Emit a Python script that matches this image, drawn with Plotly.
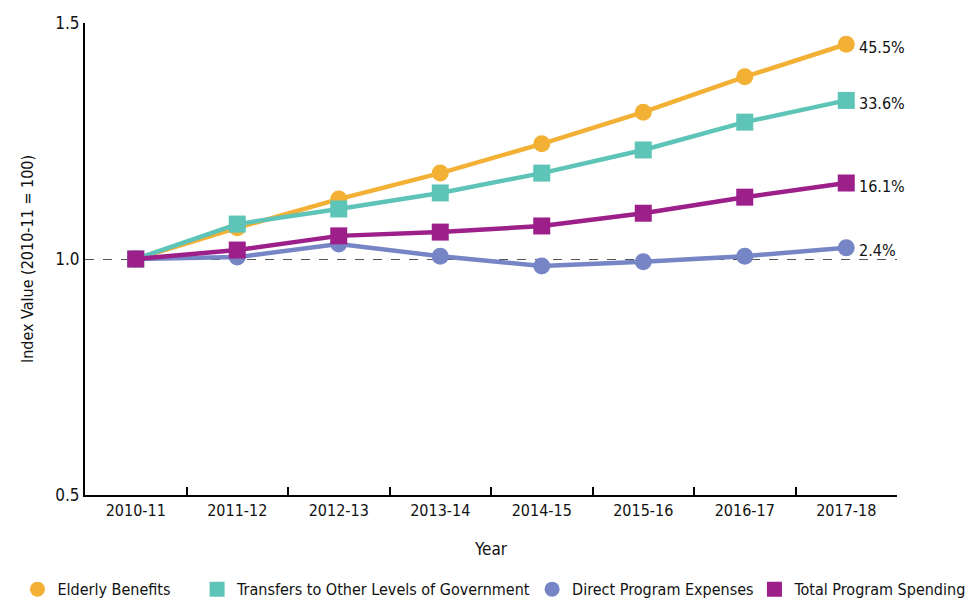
import plotly.graph_objects as go

years = ["2010-11", "2011-12", "2012-13", "2013-14", "2014-15", "2015-16", "2016-17", "2017-18"]

elderly_benefits = [1.000, 1.066, 1.127, 1.182, 1.244, 1.311, 1.386, 1.455]
transfers = [1.000, 1.074, 1.106, 1.140, 1.182, 1.231, 1.290, 1.336]
direct_program = [1.000, 1.004, 1.032, 1.006, 0.985, 0.994, 1.006, 1.024]
total_program = [1.000, 1.019, 1.049, 1.057, 1.070, 1.097, 1.131, 1.161]

series = [
    ("Elderly Benefits", elderly_benefits, "#F2B035", "circle"),
    ("Transfers to Other Levels of Government", transfers, "#5EC4B8", "square"),
    ("Direct Program Expenses", direct_program, "#7585C6", "circle"),
    ("Total Program Spending", total_program, "#9C1F8A", "square"),
]

# left edge of each legend entry (fraction of the page width)
legend_x = [0.018, 0.203, 0.548, 0.777]

FONT = "DejaVu Sans Condensed, Liberation Sans Narrow, Roboto, sans-serif"

fig = go.Figure()

for name, vals, color, symbol in series:
    fig.add_trace(go.Scatter(
        x=years, y=vals, mode="lines+markers", name=name,
        line=dict(color=color, width=4.5),
        marker=dict(symbol=symbol, size=17, color=color),
        showlegend=False,
    ))

# legend entries show the marker only, one legend box per entry in a single row
legend_layout = {}
for i, (name, vals, color, symbol) in enumerate(series):
    key = "legend" if i == 0 else f"legend{i + 1}"
    fig.add_trace(go.Scatter(
        x=[None], y=[None], mode="markers", name=name,
        marker=dict(symbol=symbol, size=15, color=color),
        showlegend=True, legend=key,
    ))
    legend_layout[key] = dict(
        orientation="h", xref="container", yref="container",
        x=legend_x[i], xanchor="left", y=0.026, yanchor="middle",
        font=dict(family=FONT, size=16, color="#111"),
        itemwidth=30, bgcolor="rgba(0,0,0,0)",
    )

# growth labels at the final year
for name, vals, color, symbol in series:
    fig.add_annotation(
        x=years[-1], y=vals[-1], text=f"{(vals[-1] - 1) * 100:.1f}%",
        showarrow=False, xanchor="left", xshift=11, yshift=-3,
        font=dict(family=FONT, size=16, color="#111"),
    )

fig.update_layout(
    width=971, height=605,
    margin=dict(l=85, r=74, t=23, b=110, autoexpand=False),
    paper_bgcolor="white", plot_bgcolor="white",
    font=dict(family=FONT, size=16, color="#111"),
    showlegend=True,
    xaxis=dict(
        type="category", range=[-0.5, 7.5],
        showline=True, linecolor="black", linewidth=2,
        ticks="inside", tickson="boundaries", ticklen=8, tickcolor="black", tickwidth=2,
        showgrid=False, zeroline=False,
        title=dict(text="Year", font=dict(family=FONT, size=17), standoff=24),
        tickfont=dict(family=FONT, size=16),
    ),
    yaxis=dict(
        range=[0.5, 1.5], tickvals=[0.5, 1.0, 1.5], ticktext=["0.5", "1.0", "1.5"],
        showline=True, linecolor="black", linewidth=2,
        ticks="", showgrid=True, gridcolor="#555", gridwidth=1, griddash="dash",
        zeroline=False,
        title=dict(text="Index Value (2010-11 = 100)", font=dict(family=FONT, size=16), standoff=18),
        tickfont=dict(family=FONT, size=17),
    ),
    **legend_layout,
)

fig.write_html("out.html")
